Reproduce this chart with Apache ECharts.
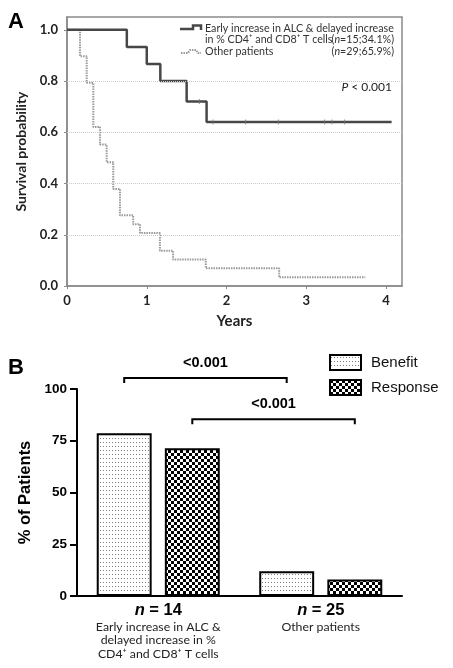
<!DOCTYPE html>
<html><head><meta charset="utf-8">
<script src="https://cdn.jsdelivr.net/npm/echarts@6/dist/echarts.min.js"></script>
<style>html,body{margin:0;padding:0;background:#fff}#c{width:453px;height:668px}</style>
</head><body><div id="c"></div>
<script>
// ---------- Panel A: Kaplan-Meier data ----------
const kmTimesEarly = [0, 0.75, 1.0, 1.17, 1.5, 1.75, 4.07];
const kmSurvEarly  = [1, 0.933, 0.867, 0.8, 0.72, 0.64, 0.64];
const censorTimesEarly = [1.66, 1.83, 2.24, 2.65, 3.23, 3.32, 3.48];
const censorSurvEarly  = [0.72, 0.64, 0.64, 0.64, 0.64, 0.64, 0.64];
const kmTimesOther = [0, 0.163, 0.247, 0.33, 0.413, 0.497, 0.58, 0.664, 0.83, 0.915, 1.165, 1.33, 1.74, 2.66, 3.74];
const kmSurvOther  = [1, 0.897, 0.793, 0.621, 0.552, 0.483, 0.379, 0.276, 0.241, 0.207, 0.138, 0.103, 0.069, 0.034, 0.034];
const yearTicks = [0, 1, 2, 3, 4];
const survTicks = [0, 0.2, 0.4, 0.6, 0.8, 1.0];
const gridLevels = [0.2, 0.4, 0.6, 0.8];
const legendA = {
  early: ['Early increase in ALC & delayed increase', 'in % CD4⁺ and CD8⁺ T cells'],
  earlyN: '15', earlyPct: '34.1%',
  other: 'Other patients', otherN: '29', otherPct: '65.9%'
};
const pText = '< 0.001';

// ---------- Panel B: bar data ----------
const groupN = ['14', '25'];
const groupDesc = [['Early increase in ALC &', 'delayed increase in %', 'CD4⁺ and CD8⁺ T cells'], ['Other patients']];
const benefit  = [78.6, 12];
const response = [71.4, 8];
const pctTicks = [0, 25, 50, 75, 100];
// [fromCategory, toCategory, level(%), seriesSide(0=Benefit,1=Response)]
const brackets = [[0, 1, 105.3, 0], [0, 1, 85.4, 1]];
const bracketLabels = ['<0.001', '<0.001'];

// ---------- patterns ----------
function dotPattern() {
  const c = document.createElement('canvas'); c.width = 3; c.height = 4;
  const g = c.getContext('2d');
  g.fillStyle = '#fff'; g.fillRect(0, 0, 3, 4);
  g.fillStyle = '#808080'; g.fillRect(1, 2, 1, 1);
  return { image: c, repeat: 'repeat' };
}
function checkerPattern() {
  const c = document.createElement('canvas'); c.width = 6; c.height = 6;
  const g = c.getContext('2d');
  g.fillStyle = '#fff'; g.fillRect(0, 0, 6, 6);
  g.fillStyle = '#000'; g.fillRect(0, 0, 3, 3); g.fillRect(3, 3, 3, 3);
  return { image: c, repeat: 'repeat' };
}
const dotFill = dotPattern(), checkFill = checkerPattern();
const BAR_FRAC = 0.338, GAP_FRAC = 0.24;

const chart = echarts.init(document.getElementById('c'), null, { renderer: 'canvas' });
const gray = '#8a8a8a';
const fontA = 'Lato, "Open Sans", sans-serif';
const fontB = '"Liberation Sans", Arial, sans-serif';
const legFont = '10.7px ' + fontA;

const option = {
  animation: false,
  backgroundColor: '#fff',
  grid: [
    { left: 67, right: 51, top: 17, height: 269, show: true, borderColor: gray, borderWidth: 1.5, backgroundColor: 'transparent' },
    { left: 77, right: 51, top: 389, height: 207 }
  ],
  xAxis: [
    { gridIndex: 0, type: 'value', min: 0, max: 4.2,
      axisLine: { show: true, lineStyle: { color: gray, width: 1.5 } },
      axisTick: { show: true, length: 3, customValues: yearTicks, lineStyle: { color: gray } },
      axisLabel: { customValues: yearTicks, margin: 8, fontFamily: fontA, fontWeight: 'bold', fontSize: 13, color: '#222' },
      splitLine: { show: false },
      name: 'Years', nameLocation: 'middle', nameGap: 28,
      nameTextStyle: { fontFamily: fontA, fontWeight: 'bold', fontSize: 15, color: '#222' } },
    { gridIndex: 1, type: 'category', data: groupN,
      axisLine: { lineStyle: { color: '#000', width: 2 } },
      axisTick: { alignWithLabel: true, length: 7, lineStyle: { color: '#000', width: 2 } },
      axisLabel: { margin: 4, interval: 0,
        formatter: (v, i) => '{n|n}{b| = ' + v + '}\n' + groupDesc[i].map(s => '{s|' + s + '}').join('\n'),
        rich: {
          n: { fontFamily: fontB, fontStyle: 'italic', fontWeight: 'bold', fontSize: 16.5, lineHeight: 20, color: '#000' },
          b: { fontFamily: fontB, fontWeight: 'bold', fontSize: 16.5, lineHeight: 20, color: '#000' },
          s: { fontFamily: fontA, fontSize: 12.3, lineHeight: 13.5, color: '#222' }
        } } }
  ],
  yAxis: [
    { gridIndex: 0, type: 'value', min: 0, max: 1.05,
      axisLine: { show: true, lineStyle: { color: gray, width: 1.5 } },
      axisTick: { show: true, length: 3, customValues: survTicks, lineStyle: { color: gray } },
      axisLabel: { customValues: survTicks, margin: 9, formatter: v => v.toFixed(1),
        fontFamily: fontA, fontWeight: 'bold', fontSize: 13, color: '#222' },
      splitLine: { show: false },
      name: 'Survival probability', nameLocation: 'middle', nameGap: 38,
      nameTextStyle: { fontFamily: fontA, fontWeight: 'bold', fontSize: 14, color: '#222' } },
    { gridIndex: 1, type: 'value', min: 0, max: 100, interval: 25,
      axisLine: { show: true, lineStyle: { color: '#000', width: 2 } },
      axisTick: { show: true, length: 7, lineStyle: { color: '#000', width: 2 } },
      axisLabel: { margin: 10, fontFamily: fontB, fontWeight: 'bold', fontSize: 13.5, color: '#000' },
      splitLine: { show: false },
      name: '% of Patients', nameLocation: 'middle', nameGap: 43,
      nameTextStyle: { fontFamily: fontB, fontWeight: 'bold', fontSize: 16.5, color: '#000' } }
  ],
  legend: {
    data: [
      { name: 'Benefit', itemStyle: { color: dotFill, borderColor: '#000', borderWidth: 2 } },
      { name: 'Response', itemStyle: { color: checkFill, borderColor: '#000', borderWidth: 2 } }
    ],
    orient: 'vertical', left: 329, top: 354, padding: 0, itemGap: 8,
    itemWidth: 31, itemHeight: 15, icon: 'rect',
    textStyle: { fontFamily: fontB, fontSize: 15, color: '#111', padding: [0, 0, 0, 5] }
  },
  series: [
    { name: 'Other patients', type: 'line', xAxisIndex: 0, yAxisIndex: 0, step: 'end', symbol: 'none',
      data: kmTimesOther.map((t, i) => [t, kmSurvOther[i]]),
      lineStyle: { color: '#9a9a9a', width: 2, type: [1.5, 1] },
      markLine: { silent: true, symbol: 'none', label: { show: false },
        lineStyle: { color: '#c8c8c8', width: 1, type: 'dotted' },
        data: gridLevels.map(v => ({ yAxis: v })) },
      z: 3 },
    { name: 'Early', type: 'line', xAxisIndex: 0, yAxisIndex: 0, step: 'end', symbol: 'none',
      data: kmTimesEarly.map((t, i) => [t, kmSurvEarly[i]]),
      lineStyle: { color: '#474747', width: 2.5 }, z: 4 },
    { name: 'Censored', type: 'scatter', xAxisIndex: 0, yAxisIndex: 0,
      symbol: 'rect', symbolSize: [1, 5],
      data: censorTimesEarly.map((t, i) => [t, censorSurvEarly[i]]),
      itemStyle: { color: '#777' }, z: 5 },
    { name: 'Benefit', type: 'bar', xAxisIndex: 1, yAxisIndex: 1, data: benefit,
      barWidth: (BAR_FRAC * 100) + '%', barGap: (GAP_FRAC * 100) + '%',
      itemStyle: { color: dotFill, borderColor: '#000', borderWidth: 2 } },
    { name: 'Response', type: 'bar', xAxisIndex: 1, yAxisIndex: 1, data: response,
      barWidth: (BAR_FRAC * 100) + '%', barGap: (GAP_FRAC * 100) + '%',
      itemStyle: { color: checkFill, borderColor: '#000', borderWidth: 2 } },
    { name: 'Brackets', type: 'custom', xAxisIndex: 1, yAxisIndex: 1, clip: false, silent: true,
      data: brackets,
      renderItem: (params, api) => {
        const band = api.size([1, 0])[0];
        const bw = band * BAR_FRAC;
        const off = (bw + bw * GAP_FRAC) / 2 * (api.value(3) === 0 ? -1 : 1);
        const p1 = api.coord([api.value(0), api.value(2)]);
        const p2 = api.coord([api.value(1), api.value(2)]);
        const x1 = p1[0] + off, x2 = p2[0] + off, y = p1[1];
        return { type: 'group', children: [
          { type: 'polyline', shape: { points: [[x1, y + 5], [x1, y], [x2, y], [x2, y + 5]] },
            style: { stroke: '#000', lineWidth: 2, fill: null } },
          { type: 'text', style: { text: bracketLabels[params.dataIndex], x: (x1 + x2) / 2, y: y - 8,
            align: 'center', verticalAlign: 'bottom', textAlign: 'center', textVerticalAlign: 'bottom',
            font: 'bold 14.5px ' + fontB, fill: '#000' } }
        ] };
      } }
  ],
  graphic: [
    { type: 'text', left: 8, top: 11, style: { text: 'A', font: 'bold 22px ' + fontB, fill: '#000' } },
    { type: 'text', left: 8, top: 357, style: { text: 'B', font: 'bold 22px ' + fontB, fill: '#000' } },
    // panel A legend
    { type: 'polyline', shape: { points: [[180, 29], [193, 29], [193, 25.5], [201, 25.5], [201, 30]] },
      style: { stroke: '#474747', lineWidth: 2.5, fill: null } },
    { type: 'polyline', shape: { points: [[181, 53], [188, 53], [190, 50], [196, 50], [198, 53], [201, 53]] },
      style: { stroke: '#9a9a9a', lineWidth: 2, lineDash: [1.5, 1], fill: null } },
    { type: 'text', x: 205, y: 28.3, style: { text: legendA.early[0], font: legFont, fill: '#333', verticalAlign: 'middle' } },
    { type: 'text', x: 205, y: 40, style: { text: legendA.early[1], font: legFont, fill: '#333', verticalAlign: 'middle' } },
    { type: 'text', x: 394, y: 40, style: { text: '({i|n}=' + legendA.earlyN + ';' + legendA.earlyPct + ')', font: legFont, fill: '#333', align: 'right', verticalAlign: 'middle',
      rich: { i: { fontStyle: 'italic', fontFamily: fontA, fontSize: 10.7, fill: '#333' } } } },
    { type: 'text', x: 205, y: 51.7, style: { text: legendA.other, font: legFont, fill: '#333', verticalAlign: 'middle' } },
    { type: 'text', x: 394, y: 51.7, style: { text: '({i|n}=' + legendA.otherN + ';' + legendA.otherPct + ')', font: legFont, fill: '#333', align: 'right', verticalAlign: 'middle',
      rich: { i: { fontStyle: 'italic', fontFamily: fontA, fontSize: 10.7, fill: '#333' } } } },
    { type: 'text', x: 392, y: 86.7, style: { text: '{i|P} ' + pText, font: '12px ' + fontA, fill: '#222', align: 'right', verticalAlign: 'middle',
      rich: { i: { fontStyle: 'italic', fontFamily: fontA, fontSize: 12, fill: '#222' } } } }
  ]
};
chart.setOption(option);
</script></body></html>
